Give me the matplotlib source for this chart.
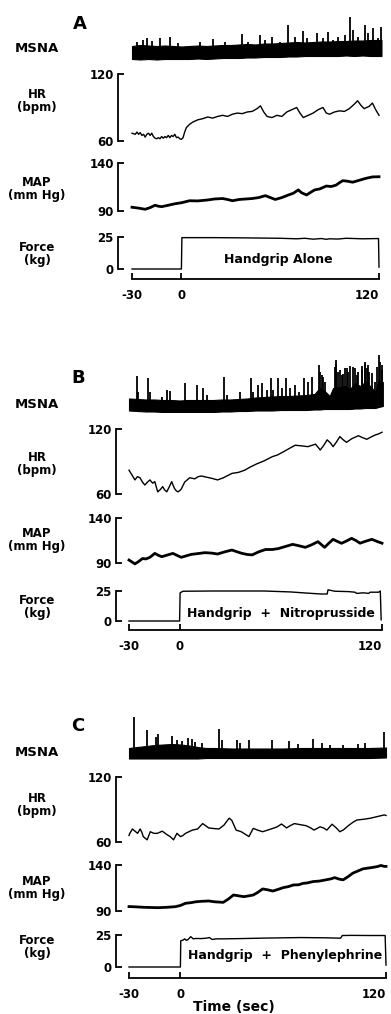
import matplotlib
matplotlib.use('Agg')
import matplotlib.pyplot as plt
import numpy as np

plt.rcParams['font.family'] = 'DejaVu Sans'
plt.rcParams['font.weight'] = 'bold'

W, H = 391, 1014

# ---------------- panel A : handgrip alone ----------------
# MSNA baseline band (time, lower edge, upper edge) and bursts (time, top), arbitrary units
msna_a_band = [(-30, 3, 16), (-25, 2.5, 17), (-20, 3, 16.5), (-15, 2.5, 16), (-10, 3, 16.5), (-5, 3, 16),
               (0, 3, 15.5), (5, 3, 16), (10, 3.5, 16.5), (15, 3, 16), (20, 3.5, 16.5), (25, 4, 17),
               (30, 4, 17), (35, 4, 17.5), (40, 4.5, 18), (45, 4.5, 17.5), (50, 5, 18.5), (55, 5, 18.5),
               (60, 5, 19), (65, 5.5, 19.5), (70, 5.5, 20), (75, 6, 19.5), (80, 6, 20), (85, 6, 20.5),
               (90, 6, 20.5), (95, 6, 21), (100, 6.5, 21), (105, 6, 21.5), (110, 6.5, 21.5), (115, 6, 22),
               (121.5, 6, 22)]
msna_a_spikes = [(-27.2, 20.3), (-23.1, 22), (-21.1, 23.7), (-18, 21.3), (-13, 23.7), (-6.9, 25.3),
                 (-1.9, 18.7), (11.3, 20.3), (19.4, 22.7), (26.5, 20.3), (36.6, 28), (40.6, 20.3),
                 (47.7, 27), (50.8, 22), (54.8, 25.3), (59.9, 20.3), (64.9, 37), (69, 25.3),
                 (74, 31.3), (76.1, 23.7), (82.1, 29.3), (86.2, 23.7), (89.2, 30.3), (92.2, 22),
                 (95.3, 25.3), (99.3, 27), (102.4, 44.7), (104.4, 32), (107.4, 25.3), (111.5, 37),
                 (113.5, 28.7), (116.5, 33.7), (119.6, 23.7), (121, 35.3)]
hr_a = [(-30, 67), (-28, 66), (-27, 68), (-26, 66), (-25, 67.5), (-24, 65), (-23, 66), (-22, 63.5),
        (-21, 66), (-20, 67), (-19, 65), (-18, 67), (-17, 64), (-16, 62.5), (-15, 62), (-14, 63),
        (-13, 62), (-12, 64), (-11, 62.5), (-10, 64), (-9, 63), (-8, 65), (-7, 63), (-6, 65),
        (-5, 64), (-4, 66), (-3, 63), (-2, 63.5), (-1, 62), (0, 61.5), (1, 63), (2, 68), (3, 72),
        (5, 75), (7, 77), (10, 79), (13, 80), (16, 81.5), (19, 80.5), (22, 82), (25, 83), (28, 82),
        (31, 84), (34, 85), (37, 84.5), (40, 86), (43, 86.5), (46, 89), (48, 91.5), (50, 86),
        (52, 82), (55, 81), (58, 83), (61, 82), (64, 86), (67, 88), (70, 90), (72, 85), (74, 81),
        (77, 83), (80, 85), (83, 88), (86, 90), (88, 85), (90, 84), (93, 86), (96, 87), (99, 86.5),
        (102, 89), (105, 93), (107, 96), (109, 92), (111, 89), (114, 91), (116, 94), (118, 88), (120, 83)]
map_a = [(-30, 93.9), (-26, 93), (-22, 91.8), (-19, 93.5), (-16, 96), (-14, 95), (-12, 94.5),
         (-8, 96), (-4, 97.5), (0, 98.6), (5, 100.7), (10, 100.5), (16, 101.5), (20, 102.5),
         (25, 103), (28, 102), (31, 100.7), (35, 102), (39, 102.5), (43, 103), (47, 104), (51, 106),
         (54, 104), (57, 102), (61, 104), (65, 106.7), (68, 108.5), (71, 112), (73, 109), (76, 106.7),
         (79, 110), (81, 112), (84, 113), (88, 116), (91, 115.5), (94, 117), (96, 119.5), (98, 121.6),
         (101, 121), (104, 120), (108, 122), (112, 124), (116, 125.5), (120, 125.7)]
force_a = [(-30, 0), (0, 0), (0.3, 24.5), (20, 24.5), (40, 24.3), (60, 24), (70, 23.6), (75, 24),
           (80, 23.3), (85, 23.8), (88, 23.2), (90, 23.6), (95, 23.4), (100, 24), (110, 23.6),
           (119.7, 23.8), (120, 1.5)]

# ---------------- panel B : handgrip + nitroprusside ----------------
msna_b_band = [(-30, 1.5, 13.5), (-25, 1, 13), (-20, 0.5, 12.5), (-15, 0.5, 12.5), (-10, 0, 12),
               (-5, 0, 12), (0, 0, 11.5), (5, 0, 12), (10, 0, 12), (15, 0, 12), (20, 0, 12), (25, 0.5, 12.5),
               (30, 0.5, 12.5), (35, 1, 13), (40, 1, 13.5), (45, 1.5, 14.5), (50, 1.5, 15), (55, 1.5, 15.5),
               (60, 2, 16), (65, 2, 16), (70, 2, 16.5), (75, 2, 17), (80, 2.5, 18), (83, 2.5, 24),
               (86, 3, 21), (89, 3, 16), (91, 3, 24), (95, 3, 25), (98, 3, 26), (101, 3, 23),
               (104, 3.5, 29), (107, 3.5, 26), (110, 4, 30), (113, 4, 26), (116, 4, 20), (118, 5, 31),
               (120.5, 6, 30)]
msna_b_spikes = [(-25.4, 36.3), (-24.5, 20.3), (-18.6, 34.3), (-17.6, 20.3), (-10.6, 15.3), (-7.7, 22),
                 (-5.7, 21), (3.2, 28.7), (10.1, 27), (14, 24.3), (16.1, 17), (26.5, 34.7), (27.9, 17),
                 (35.8, 20.3), (42.3, 33.7), (43.7, 20.3), (46.6, 27), (48.7, 28.7), (51.6, 22),
                 (54.2, 33.7), (55.5, 22), (58.5, 33.7), (60.5, 23.7), (62.9, 33.7), (65.4, 23.7),
                 (68.4, 27), (70.8, 20.3), (73.9, 34.3), (75.9, 30.3), (78.3, 35.3), (82.6, 47),
                 (83, 40), (84.2, 37), (85, 35), (86.2, 30.3), (92, 45), (92.5, 52), (93, 48),
                 (94.1, 40.3), (95, 42), (96.1, 37), (97, 38), (98, 44), (99, 43.7), (100, 40),
                 (101, 46), (103, 45.3), (104, 44), (105, 37), (106, 40), (107.9, 42), (108, 46),
                 (109.9, 50.3), (110, 48), (111, 44), (111.9, 47), (112, 40), (113.9, 38.7),
                 (115.8, 30.3), (117, 45), (118.2, 57), (118.8, 50), (119.8, 47), (120, 42)]
hr_b = [(-30, 82), (-28, 77), (-26.5, 73), (-25, 76), (-23.5, 75), (-22, 71), (-20.6, 68.3), (-19, 71),
        (-17.6, 73), (-16, 70), (-14.7, 71.4), (-13, 62), (-11.5, 64), (-10, 66.8), (-9, 64),
        (-7.6, 62), (-6, 67), (-4.7, 71.4), (-3, 65), (-2, 63), (-1, 62), (0, 63), (1, 64.6), (3, 71),
        (6, 75), (9, 74), (11, 76), (13, 76.6), (16, 75.5), (19, 74.5), (22.5, 73), (26, 75), (31, 79),
        (35, 80), (38.6, 82), (42, 85), (46, 88), (50, 90.5), (55, 94.5), (58, 96), (61, 98.5),
        (65, 102), (68.5, 105), (72, 104.5), (76, 103.7), (80.6, 106), (83.4, 100.6), (85.5, 105),
        (87.5, 110), (89.5, 107), (91, 103.7), (93, 108), (95, 113), (97, 110), (99, 107.7),
        (102, 111), (106, 113.8), (108.5, 112), (111, 110.5), (114, 113), (116, 114.5),
        (118, 115.5), (120, 117)]
map_b = [(-30, 93.3), (-26.5, 89), (-24, 92), (-22, 95), (-20, 94.5), (-17.6, 96.3), (-14.7, 100.7),
         (-12.5, 98.5), (-10.6, 97), (-7, 99), (-4, 100.7), (-1, 98), (1, 96.3), (4, 98), (7, 99.6),
         (11, 100.5), (15, 101.5), (19, 101), (22.5, 100), (27, 102.5), (31, 104.4), (34, 102.5),
         (37, 100.7), (40, 99.5), (43, 99), (47, 102.5), (51, 105), (55, 105), (58.5, 106),
         (63, 108.5), (67, 110.7), (70, 109.5), (74.5, 107.4), (78, 110), (82, 113.7), (86, 107.4),
         (88.5, 112), (91, 116.3), (93.5, 114), (96, 111.9), (99, 114.5), (102, 117.4), (104.5, 115),
         (107, 112), (110, 114), (114, 116.3), (117, 114), (120, 112)]
force_b = [(-30, 0), (0, 0), (0.3, 23.5), (2, 24.8), (20, 25), (50, 25), (60, 24.5), (66, 24.2),
           (75, 23.3), (84, 22.5), (87.5, 22.5), (88, 26), (92, 24.8), (100, 24.5), (104, 24),
           (105, 23), (109, 23.5), (112, 23), (113, 24), (118, 24), (119, 25), (119.5, 1)]

# ---------------- panel C : handgrip + phenylephrine ----------------
msna_c_band = [(-30, 1.5, 12), (-25, 1.5, 13), (-20, 1.5, 14), (-15, 1.5, 15), (-10, 1.5, 15.5),
               (-5, 1.5, 16), (0, 1.5, 15.5), (5, 1.5, 14.5), (10, 1.5, 13), (15, 2, 12), (20, 2, 12),
               (30, 2, 11.5), (40, 2, 11.5), (50, 2, 11.5), (60, 2, 11.5), (70, 2, 12), (80, 2, 12),
               (90, 2, 12), (100, 2, 12), (110, 2, 12), (120, 2.5, 12.5)]
msna_c_spikes = [(-26.9, 43.3), (-19.7, 30), (-14.4, 23.3), (-12.9, 25.7), (-5.1, 24.3), (-2.2, 20),
                 (0.8, 19), (4.6, 21.7), (6.6, 21), (8.5, 18.3), (12.4, 16.7), (22.7, 31), (24.1, 20),
                 (32.9, 20), (34.8, 16.7), (40.1, 20), (53.3, 20), (63.4, 19), (68.8, 15.7),
                 (77.6, 21), (82.5, 16.7), (87.3, 15), (95.1, 15), (103.9, 15.7), (107.8, 16.7),
                 (119, 28.3)]
hr_c = [(-30, 66), (-29.5, 68), (-28, 72), (-26.5, 70), (-25, 68), (-23.5, 72), (-22.5, 69),
        (-21.7, 65), (-19.4, 62), (-17.6, 69.5), (-15.5, 68), (-13.5, 68), (-12, 69), (-10.6, 70),
        (-8, 67), (-6, 65), (-4, 62), (-2, 68), (0, 65), (1.5, 66), (3, 68), (7, 71), (10, 72),
        (13, 77), (16.5, 73), (19, 72.5), (22.5, 72), (25.5, 75.7), (27, 79), (28.5, 82), (30, 80),
        (32.5, 71), (35.5, 69.5), (38, 67), (40, 65), (42.5, 72.6), (45, 71), (48, 69.5), (51, 71),
        (54, 72.6), (56.5, 74), (59, 76.6), (62, 73), (64, 75), (66.5, 77), (70, 76), (73.5, 75),
        (76, 73), (78, 71), (81.5, 74), (83.5, 73), (85.5, 71), (88.5, 76.4), (91, 73), (93, 69.5),
        (95, 71), (98.5, 75.7), (101, 78.5), (103, 80.3), (107, 81), (111, 82), (115, 83.5),
        (119, 85), (120, 84.5)]
map_c = [(-30, 94.8), (-28, 94.7), (-24, 94.3), (-21, 94), (-17, 93.8), (-13, 93.6), (-8, 94),
         (-3, 94.7), (0, 96), (3, 98.4), (6, 99), (9, 100), (12, 100.5), (16.5, 100.9), (20, 100),
         (25, 99.4), (28, 103), (31, 107.4), (34, 106.5), (37, 105.6), (40, 106.5), (42.5, 107.4),
         (45, 110), (48, 114), (51, 113), (54, 111.7), (57, 113.5), (60, 115.4), (63, 116.5),
         (66, 118.3), (69, 118.5), (71.5, 120), (74, 120.5), (77.5, 122), (81, 122.5), (85, 123.9),
         (88, 125), (90, 126.3), (93, 124.5), (95, 123.9), (98, 127.5), (100.5, 131), (103, 133),
         (106.5, 135.8), (109, 136.5), (112, 137.3), (115, 138.3), (117, 139.5), (119, 138.5),
         (120, 138.5)]
force_c = [(-30, 0), (0, 0), (0.2, 20.5), (1.5, 21), (2.5, 22), (3.5, 20.8), (4.5, 21.5), (6, 23.7),
           (7.5, 22), (9, 22.3), (12, 22.2), (15, 22.5), (17, 23), (18.5, 21.5), (21, 22), (25, 22),
           (35, 22.2), (50, 22.6), (70, 23), (85, 22.8), (93.5, 22.5), (94.5, 24.6), (100, 24.7),
           (110, 24.6), (119.5, 24.6), (120, 1.5)]

conditions = ['Handgrip Alone', 'Handgrip  +  Nitroprusside', 'Handgrip  +  Phenylephrine']
letters = ['A', 'B', 'C']

# pixel layout of each panel (measured from the top-left of the image)
layouts = [
    dict(spine=118, x_m30=132, x_120=379, msna=(12, 62), hr=(74, 141), map=(163, 211), force=(237, 269),
         taxis=279, letter=(80, 24), lab_msna=48, lab_hr=101, lab_map=189, lab_force=254, cond=(278, 259)),
    dict(spine=116, x_m30=129, x_120=382, msna=(345, 412), hr=(429, 494), map=(518, 563), force=(591, 621),
         taxis=630, letter=(78, 378), lab_msna=404, lab_hr=464, lab_map=540, lab_force=607, cond=(281, 613)),
    dict(spine=116, x_m30=129, x_120=386, msna=(705, 760), hr=(777, 842), map=(865, 911), force=(935, 967),
         taxis=978, letter=(78, 726), lab_msna=752, lab_hr=805, lab_map=888, lab_force=947, cond=(285, 955)),
]

panels = [
    (msna_a_band, msna_a_spikes, hr_a, map_a, force_a),
    (msna_b_band, msna_b_spikes, hr_b, map_b, force_b),
    (msna_c_band, msna_c_spikes, hr_c, map_c, force_c),
]

fig = plt.figure(figsize=(W / 100, H / 100), dpi=100)
fig.patch.set_facecolor('white')

SPW = 1.3


def px_axes(x0, x1, y0, y1):
    return fig.add_axes([x0 / W, 1 - y1 / H, (x1 - x0) / W, (y1 - y0) / H])


def t_of(px, lay):
    return -30 + (px - lay['x_m30']) * 150.0 / (lay['x_120'] - lay['x_m30'])


def bracket_axis(ax, lo, hi, labels):
    for s in ['top', 'right', 'bottom']:
        ax.spines[s].set_visible(False)
    ax.spines['left'].set_bounds(lo, hi)
    ax.spines['left'].set_linewidth(SPW)
    ax.set_yticks([lo, hi])
    ax.set_yticklabels(labels)
    ax.tick_params(axis='y', direction='in', length=4.5, width=SPW, pad=3, labelsize=8.5)
    ax.set_xticks([])
    ax.patch.set_visible(False)


def side_label(y, text):
    fig.text(37 / W, 1 - y / H, text, ha='center', va='center', fontsize=8.5,
             fontweight='bold', linespacing=0.95)


for lay, (band, spikes, hr, mp, force), letter, cond in zip(layouts, panels, letters, conditions):
    right = lay['x_120'] + 6
    xl = (t_of(lay['spine'], lay), t_of(right, lay))

    # MSNA
    top, bot = lay['msna']
    ax = px_axes(lay['spine'], right, top, bot)
    bt, blo, bhi = zip(*band)
    ax.fill_between(bt, blo, bhi, color='black', lw=0.8)
    st, sv = zip(*spikes)
    ax.vlines(st, np.interp(st, bt, blo), sv, color='black', lw=1.3)
    ax.set_xlim(xl)
    ax.set_ylim(0, bot - top)
    ax.axis('off')

    # HR
    top, bot = lay['hr']
    ax = px_axes(lay['spine'], right, top, bot)
    t, v = zip(*hr)
    ax.plot(t, v, color='black', lw=1.0, clip_on=False)
    ax.set_xlim(xl)
    ax.set_ylim(60, 120)
    bracket_axis(ax, 60, 120, ['60', '120'])

    # MAP
    top, bot = lay['map']
    ax = px_axes(lay['spine'], right, top, bot)
    t, v = zip(*mp)
    ax.plot(t, v, color='black', lw=2.0, clip_on=False, solid_joinstyle='round')
    ax.set_xlim(xl)
    ax.set_ylim(90, 140)
    bracket_axis(ax, 90, 140, ['90', '140'])

    # Force + time axis
    f25, f0 = lay['force']
    ax = px_axes(lay['spine'], right, f25, lay['taxis'])
    t, v = zip(*force)
    ax.plot(t, v, color='black', lw=1.0, clip_on=False)
    ax.set_xlim(xl)
    ax.set_ylim(-(lay['taxis'] - f0) / (f0 - f25) * 25, 25)
    bracket_axis(ax, 0, 25, ['0', '25'])
    ax.spines['bottom'].set_visible(True)
    ax.spines['bottom'].set_bounds(-30, 120)
    ax.spines['bottom'].set_linewidth(SPW)
    ax.set_xticks([-30, 0, 120])
    ax.set_xticklabels(['-30', '0', '120'])
    ax.get_xticklabels()[-1].set_horizontalalignment('right')
    ax.tick_params(axis='x', direction='in', length=4.5, width=SPW, pad=7, labelsize=8.5)

    # text
    fig.text(lay['letter'][0] / W, 1 - lay['letter'][1] / H, letter, ha='center', va='center',
             fontsize=13, fontweight='bold')
    fig.text(37 / W, 1 - lay['lab_msna'] / H, 'MSNA', ha='center', va='center', fontsize=9.5,
             fontweight='bold')
    side_label(lay['lab_hr'], 'HR\n(bpm)')
    side_label(lay['lab_map'], 'MAP\n(mm Hg)')
    side_label(lay['lab_force'], 'Force\n(kg)')
    fig.text(lay['cond'][0] / W, 1 - lay['cond'][1] / H, cond, ha='center', va='center',
             fontsize=9, fontweight='bold')

fig.text(234 / W, 1 - 1007 / H, 'Time (sec)', ha='center', va='center', fontsize=10,
         fontweight='bold')

plt.savefig('out.png', dpi=100)
plt.close()
